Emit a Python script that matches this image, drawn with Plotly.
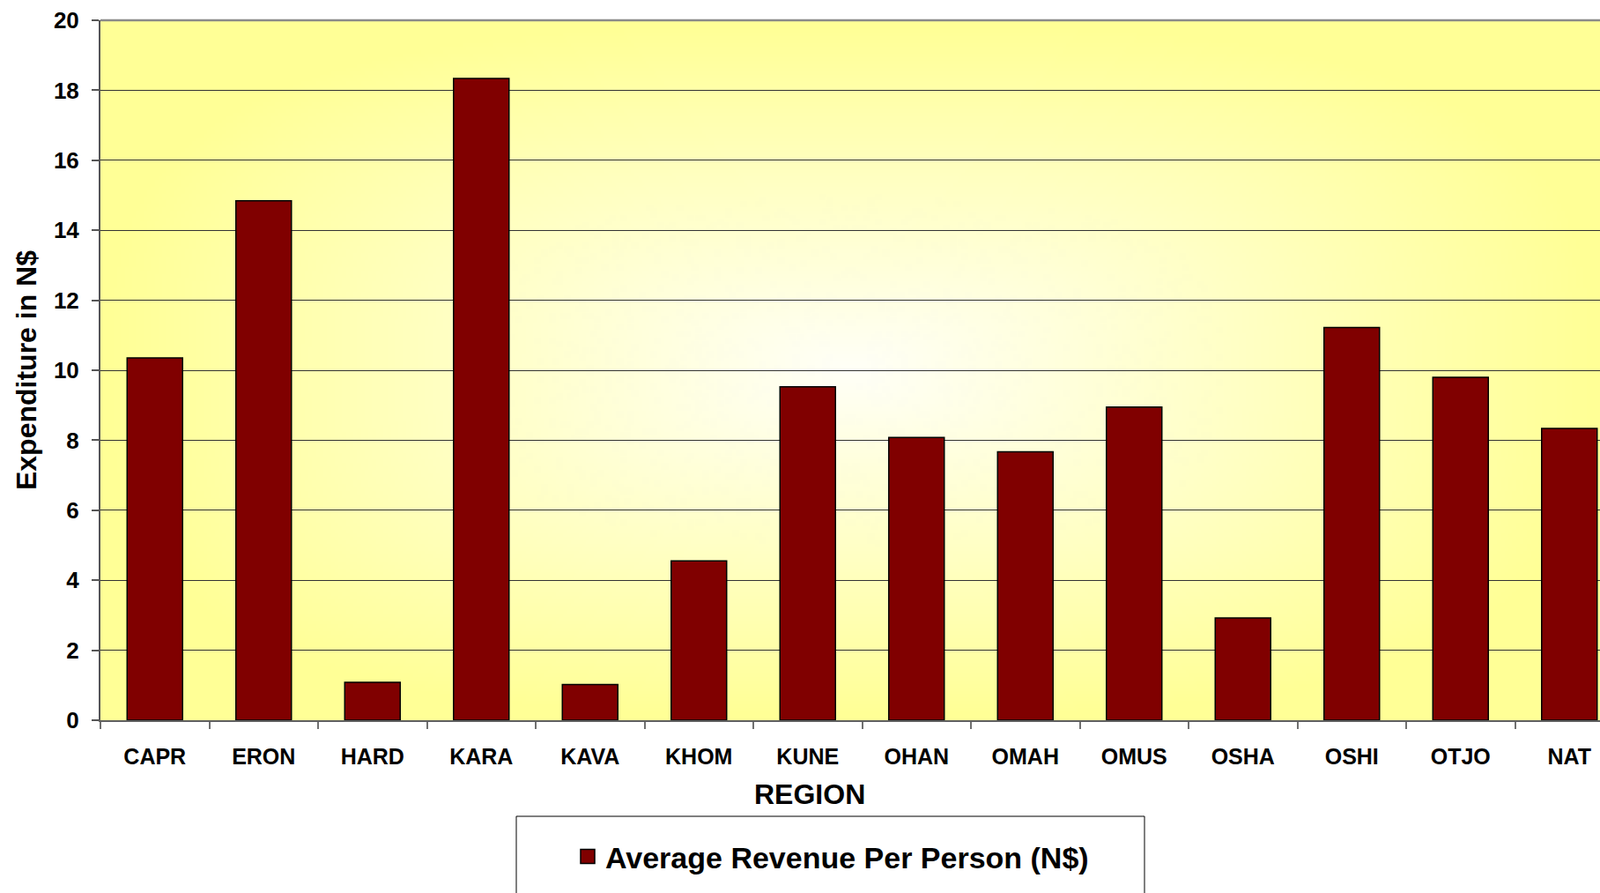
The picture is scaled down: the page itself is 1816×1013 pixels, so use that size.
import base64, struct, zlib
import numpy as np
import plotly.graph_objects as go

# ---- data ----
regions = ["CAPR", "ERON", "HARD", "KARA", "KAVA", "KHOM", "KUNE",
           "OHAN", "OMAH", "OMUS", "OSHA", "OSHI", "OTJO", "NAT"]
avg_revenue = [10.35, 14.84, 1.08, 18.34, 1.02, 4.55, 9.53,
               8.08, 7.67, 8.95, 2.92, 11.22, 9.80, 8.34]
series_name = "Average Revenue Per Person (N$)"
y_ticks = [0, 2, 4, 6, 8, 10, 12, 14, 16, 18, 20]
x_title = "REGION"
y_title = "Expenditure in N$"

# ---- background gradient (styling only) ----
def gradient_png(w=400, h=200):
    xs = np.linspace(-1, 1, w)
    ys = np.linspace(-1, 1, h)
    X, Y = np.meshgrid(xs, ys)
    p = 3.0
    t = np.clip((np.abs(X) ** p + np.abs(Y) ** p) ** (1 / p), 0, 1)
    c0 = np.array([255, 255, 248], dtype=float)
    c1 = np.array([255, 255, 150], dtype=float)
    img = (c0[None, None, :] * (1 - t[..., None]) + c1[None, None, :] * t[..., None]).astype(np.uint8)
    raw = b"".join(b"\x00" + img[r].tobytes() for r in range(h))
    def chunk(tag, data):
        c = struct.pack(">I", len(data)) + tag + data
        return c + struct.pack(">I", zlib.crc32(tag + data) & 0xffffffff)
    png = b"\x89PNG\r\n\x1a\n" + chunk(b"IHDR", struct.pack(">IIBBBBB", w, h, 8, 2, 0, 0, 0)) \
        + chunk(b"IDAT", zlib.compress(raw, 9)) + chunk(b"IEND", b"")
    return "data:image/png;base64," + base64.b64encode(png).decode()

FONT = "Liberation Sans, Arial, sans-serif"
W, H = 1816, 1013
ML, MT, MB = 114, 23, 196
plot_w = W - ML
plot_h = H - MT - MB
cat_px = 123.5
x_max = plot_w / cat_px - 0.5

fig = go.Figure()
fig.add_trace(go.Bar(
    x=regions, y=avg_revenue, name=series_name, showlegend=False,
    marker=dict(color="#800000", line=dict(color="#000000", width=1.5)),
    width=0.51,
))
# legend entry (larger square swatch than the bar default)
fig.add_trace(go.Scatter(
    x=[None], y=[None], mode="markers", name=series_name, showlegend=True,
    marker=dict(symbol="square", size=16, color="#800000", line=dict(color="#000000", width=1.5)),
))

def px_x(px):
    return (px - ML) / plot_w

def px_y(py):
    return (H - MB - py) / plot_h

fig.update_layout(
    width=W, height=H,
    margin=dict(l=ML, r=0, t=MT, b=MB, autoexpand=False),
    paper_bgcolor="white",
    plot_bgcolor="#FFFF99",
    showlegend=True,
    legend=dict(
        orientation="h", xref="container", yref="container",
        x=944 / W, xanchor="center", y=(H - 972) / H, yanchor="middle",
        font=dict(family=FONT, size=34, color="black", weight="bold"),
        bgcolor="rgba(0,0,0,0)", borderwidth=0, itemwidth=30,
    ),
    images=[dict(source=gradient_png(), xref="paper", yref="paper", x=0, y=1,
                 sizex=1, sizey=1, sizing="stretch", xanchor="left", yanchor="top",
                 layer="below")],
    shapes=[
        dict(type="line", xref="paper", yref="paper", x0=0, x1=1, y0=1, y1=1,
             line=dict(color="#8a8a8a", width=2.5)),
        dict(type="rect", xref="paper", yref="paper",
             x0=px_x(586), x1=px_x(1299), y0=px_y(926), y1=px_y(1030),
             line=dict(color="black", width=1), fillcolor="rgba(0,0,0,0)"),
    ],
    annotations=[
        dict(text=x_title, xref="paper", yref="paper", x=px_x(919), y=px_y(901),
             xanchor="center", yanchor="middle", showarrow=False,
             font=dict(family=FONT, size=32, color="black", weight="bold")),
    ],
    xaxis=dict(
        range=[-0.5, x_max], automargin=False,
        showline=True, linecolor="#606060", linewidth=2,
        ticks="outside", tickson="boundaries", ticklen=8, tickcolor="#707070", tickwidth=1.5,
        showgrid=False,
        tickfont=dict(family=FONT, size=25, color="black", weight="bold"),
        ticklabelstandoff=18,
    ),
    yaxis=dict(
        range=[0, 20], tickvals=y_ticks, ticktext=[str(v) for v in y_ticks], automargin=False,
        showline=True, linecolor="#555555", linewidth=2,
        ticks="outside", ticklen=8, tickcolor="#555555", tickwidth=1.5,
        showgrid=True, gridcolor="#333333", gridwidth=1, zeroline=False,
        tickfont=dict(family=FONT, size=26, color="black", weight="bold"),
        ticklabelstandoff=9,
        title=dict(text=y_title, font=dict(family=FONT, size=32, color="black", weight="bold"),
                   standoff=10),
    ),
)

fig.write_html("out.html", config={"displayModeBar": False},
               post_script="document.body.style.margin='0';document.body.style.overflow='hidden';")
